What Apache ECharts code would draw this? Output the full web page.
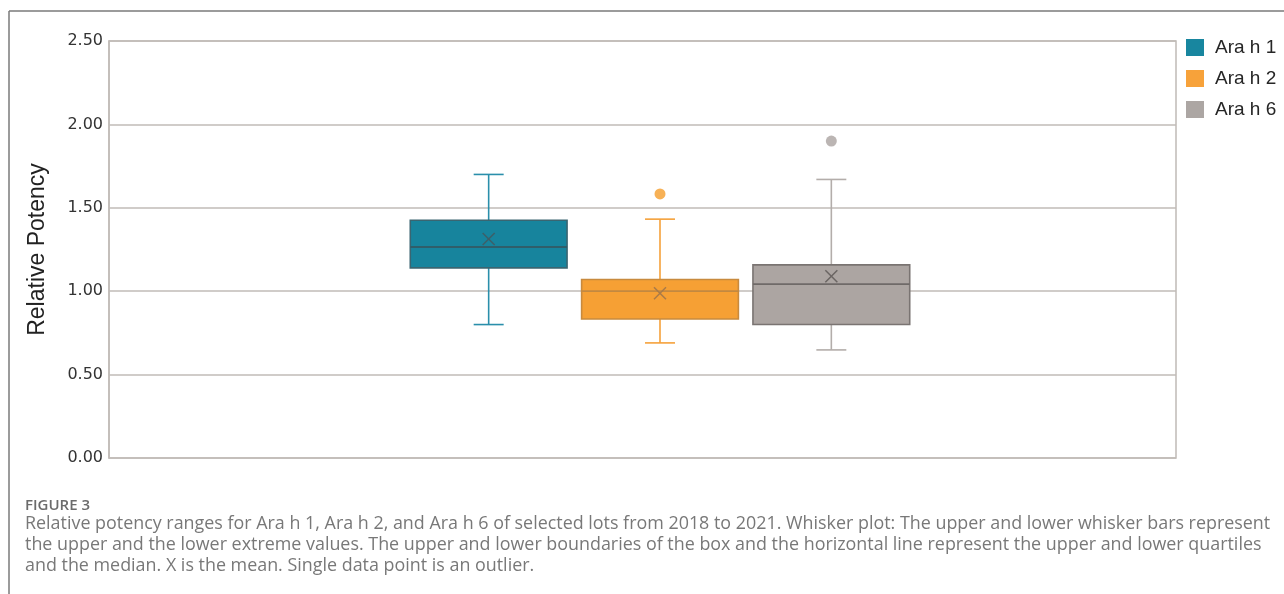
<!DOCTYPE html>
<html>
<head>
<meta charset="utf-8">
<script src="https://cdn.jsdelivr.net/npm/echarts@6/dist/echarts.min.js"></script>
<style>
html,body{margin:0;padding:0;background:#fff;}
#chart{width:1284px;height:594px;}
</style>
</head>
<body>
<div id="chart"></div>
<script>
// ---- data ----
const CATEGORIES = ['Ara h 1', 'Ara h 2', 'Ara h 6'];
const Y_TICKS = [0, 0.5, 1.0, 1.5, 2.0, 2.5];
// [min, Q1, median, Q3, max]
const ARA_H1_BOX = [0.80, 1.14, 1.265, 1.425, 1.70];
const ARA_H2_BOX = [0.69, 0.833, 1.00, 1.07, 1.432];
const ARA_H6_BOX = [0.648, 0.80, 1.042, 1.158, 1.67];
const MEANS = [1.313, 0.988, 1.09];
const ARA_H1_OUTLIERS = [];
const ARA_H2_OUTLIERS = [1.583];
const ARA_H6_OUTLIERS = [1.90];
const Y_TITLE = 'Relative Potency';
const CAPTION_TITLE = 'FIGURE 3';
const CAPTION_LINES = [
  'Relative potency ranges for Ara h 1, Ara h 2, and Ara h 6 of selected lots from 2018 to 2021. Whisker plot: The upper and lower whisker bars represent',
  'the upper and the lower extreme values. The upper and lower boundaries of the box and the horizontal line represent the upper and lower quartiles',
  'and the median. X is the mean. Single data point is an outlier.'
];

// ---- styles ----
const STYLES = [
  {fill:'#17849d', border:'#3a6571', whisker:'#2a8fab', median:'#2f5e6a', mean:'#3d5f68', legend:'#18869f'},
  {fill:'#f6a034', border:'#c88a3e', whisker:'#f5a13a', median:'#c38940', mean:'#a97a48', legend:'#f7a23a'},
  {fill:'#aca5a2', border:'#7a7472', whisker:'#b3adaa', median:'#6f6a68', mean:'#6b6563', legend:'#aca6a3'}
];
const OUTLIER_COLORS = ['#18869f', '#f59d2c', '#aaa3a0'];
const BOXES = [ARA_H1_BOX, ARA_H2_BOX, ARA_H6_BOX];
const OUTLIERS = [ARA_H1_OUTLIERS, ARA_H2_OUTLIERS, ARA_H6_OUTLIERS];
const BOX_FRAC = 0.915, CAP_FRAC = 0.175, MEAN_HALF = 6;
const GRID_COLOR = '#c0bbb7';
const CAPTION_FONT = '17.9px "Open Sans"';

function makeRender(st) {
  return function (params, api) {
    const x = api.value(0);
    const band = api.size([1, 0])[0];
    const bw = band * BOX_FRAC, cw = band * CAP_FRAC;
    const pMin = api.coord([x, api.value(1)]);
    const pQ1 = api.coord([x, api.value(2)]);
    const pMed = api.coord([x, api.value(3)]);
    const pQ3 = api.coord([x, api.value(4)]);
    const pMax = api.coord([x, api.value(5)]);
    const pMean = api.coord([x, api.value(6)]);
    const cx = pMed[0];
    const wl = {stroke: st.whisker, lineWidth: 1.6};
    return {
      type: 'group',
      children: [
        {type:'line', shape:{x1:cx, y1:pQ3[1], x2:cx, y2:pMax[1]}, style:wl},
        {type:'line', shape:{x1:cx, y1:pQ1[1], x2:cx, y2:pMin[1]}, style:wl},
        {type:'line', shape:{x1:cx-cw/2, y1:pMax[1], x2:cx+cw/2, y2:pMax[1]}, style:wl},
        {type:'line', shape:{x1:cx-cw/2, y1:pMin[1], x2:cx+cw/2, y2:pMin[1]}, style:wl},
        {type:'rect', shape:{x:cx-bw/2, y:pQ3[1], width:bw, height:pQ1[1]-pQ3[1]},
          style:{fill:st.fill, stroke:st.border, lineWidth:1.6}},
        {type:'line', shape:{x1:cx-bw/2, y1:pMed[1], x2:cx+bw/2, y2:pMed[1]},
          style:{stroke:st.median, lineWidth:1.8}},
        {type:'line', shape:{x1:cx-MEAN_HALF, y1:pMean[1]-MEAN_HALF, x2:cx+MEAN_HALF, y2:pMean[1]+MEAN_HALF},
          style:{stroke:st.mean, lineWidth:1.5}},
        {type:'line', shape:{x1:cx-MEAN_HALF, y1:pMean[1]+MEAN_HALF, x2:cx+MEAN_HALF, y2:pMean[1]-MEAN_HALF},
          style:{stroke:st.mean, lineWidth:1.5}}
      ]
    };
  };
}

const series = [];
CATEGORIES.forEach(function (name, i) {
  const b = BOXES[i];
  series.push({
    name: name,
    type: 'custom',
    xAxisIndex: 1, yAxisIndex: 1,
    renderItem: makeRender(STYLES[i]),
    itemStyle: {color: STYLES[i].legend},
    encode: {x: 0, y: [1, 2, 3, 4, 5, 6]},
    data: [[i, b[0], b[1], b[2], b[3], b[4], MEANS[i]]],
    z: 3
  });
  series.push({
    name: name,
    type: 'scatter',
    xAxisIndex: 1, yAxisIndex: 1,
    symbol: 'circle', symbolSize: 11,
    itemStyle: {color: OUTLIER_COLORS[i]},
    data: OUTLIERS[i].map(function (v) { return [i, v]; }),
    z: 4
  });
});

const chart = echarts.init(document.getElementById('chart'), null, {renderer: 'canvas'});
chart.setOption({
  animation: false,
  backgroundColor: '#ffffff',
  grid: [
    {left: 109, right: 108, top: 41, bottom: 136, show: true, borderColor: GRID_COLOR, borderWidth: 1.5, backgroundColor: 'transparent'},
    {left: 403, right: 367, top: 41, bottom: 136}
  ],
  legend: {
    orient: 'vertical', left: 1186, top: 38, padding: 0,
    itemWidth: 18, itemHeight: 17, itemGap: 12,
    textStyle: {fontFamily: 'Liberation Sans', fontSize: 19, color: '#262626', padding: [0, 0, 0, 6]},
    data: CATEGORIES.map(function (n, i) {
      return {name: n, icon: 'rect', itemStyle: {color: STYLES[i].legend, borderWidth: 0}};
    })
  },
  xAxis: [
    {type: 'value', gridIndex: 0, min: 0, max: 1, show: false},
    {type: 'category', gridIndex: 1, data: CATEGORIES, show: false}
  ],
  yAxis: [
    {
      type: 'value', gridIndex: 0, min: Y_TICKS[0], max: Y_TICKS[Y_TICKS.length - 1], interval: 0.5,
      name: Y_TITLE, nameLocation: 'middle', nameGap: 60,
      nameTextStyle: {fontFamily: 'Liberation Sans', fontSize: 23, color: '#222'},
      axisLine: {show: true, lineStyle: {color: GRID_COLOR, width: 1.5}},
      axisTick: {show: false},
      axisLabel: {margin: 6, fontFamily: 'DejaVu Sans', fontSize: 16, color: '#333333',
        formatter: function (v) { return v.toFixed(2); }},
      splitLine: {show: true, lineStyle: {color: GRID_COLOR, width: 1.5}}
    },
    {type: 'value', gridIndex: 1, min: Y_TICKS[0], max: Y_TICKS[Y_TICKS.length - 1], show: false}
  ],
  series: series,
  graphic: [
    {type: 'line', shape: {x1: 9, y1: 11, x2: 1284, y2: 11}, style: {stroke: '#7a7a7a', lineWidth: 1.5}, silent: true},
    {type: 'line', shape: {x1: 9, y1: 11, x2: 9, y2: 594}, style: {stroke: '#7a7a7a', lineWidth: 1.5}, silent: true},
    {type: 'text', x: 25, y: 506, silent: true,
      style: {text: CAPTION_TITLE, font: '600 15px "Open Sans"', fill: '#6b6b6b', verticalAlign: 'middle'}},
    {type: 'text', x: 25, y: 524, silent: true,
      style: {text: CAPTION_LINES[0], font: CAPTION_FONT, fill: '#787878', verticalAlign: 'middle'}},
    {type: 'text', x: 25, y: 545, silent: true,
      style: {text: CAPTION_LINES[1], font: CAPTION_FONT, fill: '#787878', verticalAlign: 'middle'}},
    {type: 'text', x: 25, y: 566, silent: true,
      style: {text: CAPTION_LINES[2], font: CAPTION_FONT, fill: '#787878', verticalAlign: 'middle'}}
  ]
});
</script>
</body>
</html>
